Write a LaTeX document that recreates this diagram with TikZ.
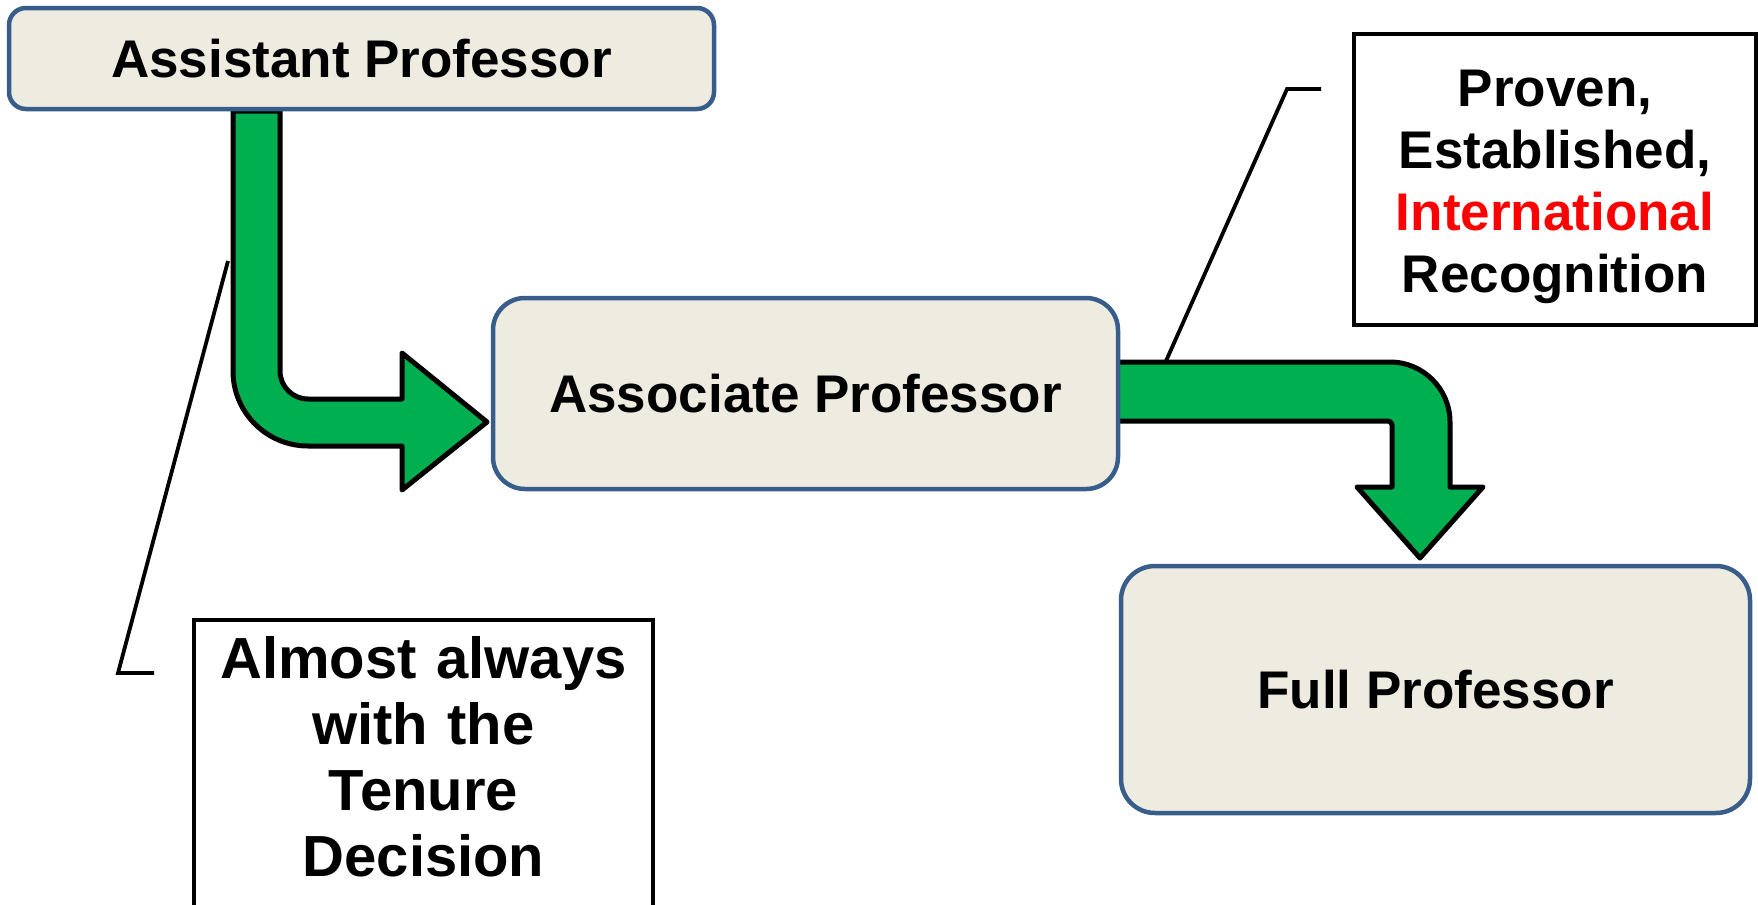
\documentclass[tikz,border=0pt]{standalone}
\usepackage{fontspec}
\setmainfont{Liberation Sans}
\definecolor{rankblue}{HTML}{385D8A}
\definecolor{rankfill}{HTML}{EEECE1}
\definecolor{stepgreen}{HTML}{00B050}
\tikzset{
    rank/.style={draw=rankblue, line width=2.25pt, fill=rankfill, inner sep=0pt,
        font=\fontsize{26.5}{31}\selectfont\bfseries},
    remark/.style={draw, line width=2pt, align=center, inner sep=0pt},
    promote/.style={draw, line width=2.5pt, fill=stepgreen, line join=round},
    pointer/.style={line width=1.9pt},
}
\begin{document}
\begin{tikzpicture}[x=0.5pt, y=-0.5pt]
    \path[use as bounding box] (0,0) rectangle (1758,905);
    \clip (0,0) rectangle (1758,905);
    % green promotion arrows
    \draw[promote] (233,111) [rounded corners=37.5pt] -- (233,446) [sharp corners] -- (402,446) -- (402,490)
        -- (487,422) -- (402,353) -- (402,399) [rounded corners=14pt] -- (280,399) [sharp corners] -- (280,111) -- cycle;
    \draw[promote] (1110,362) [rounded corners=30pt] -- (1450,362) [sharp corners] -- (1450,487) -- (1483,487)
        -- (1420,558) -- (1357,487) -- (1392,487) [rounded corners=2pt] -- (1392,421) [sharp corners] -- (1110,421) -- cycle;
    % ranks
    \node[rank, rounded corners=8.5pt, minimum width=352.5pt, minimum height=50.5pt] (assistant) at (361.5,58.5) {Assistant Professor};
    \node[rank, rounded corners=16pt, minimum width=312.5pt, minimum height=95.5pt] (associate) at (805.5,393.5) {Associate Professor};
    \node[rank, rounded corners=17pt, minimum width=314.5pt, minimum height=123.5pt] (full) at (1435.5,689.5) {Full Professor};
    % remarks
    \node[align=center, text width=229.5pt, inner xsep=0pt, inner ysep=8pt, anchor=north,
        font=\fontsize{29}{33}\selectfont\bfseries] (tenure) at (423.5,620) {Almost always\\with the\\Tenure\\Decision};
    \draw[remark] ([yshift=-30pt]tenure.south west) |- (tenure.north east) -- ([yshift=-30pt]tenure.south east);
    \node[remark, minimum width=201pt, minimum height=145.5pt, text width=195pt,
        font=\fontsize{26.5}{31}\selectfont\bfseries] (recognition) at (1555,179.5)
        {\rule{0pt}{26pt}Proven,\\Established,\\\textcolor{red}{International}\\Recognition};
    % callout lines
    \coordinate (tenurepin) at (228,261);
    \coordinate (tenureknee) at (118,673);
    \coordinate (tenureend) at (154,673);
    \coordinate (recogpin) at (1166,361);
    \coordinate (recogknee) at (1287,89);
    \coordinate (recogend) at (1321,89);
    \draw[pointer] (tenurepin) -- (tenureknee) -- (tenureend);
    \draw[pointer] (recogpin) -- (recogknee) -- (recogend);
\end{tikzpicture}
\end{document}
